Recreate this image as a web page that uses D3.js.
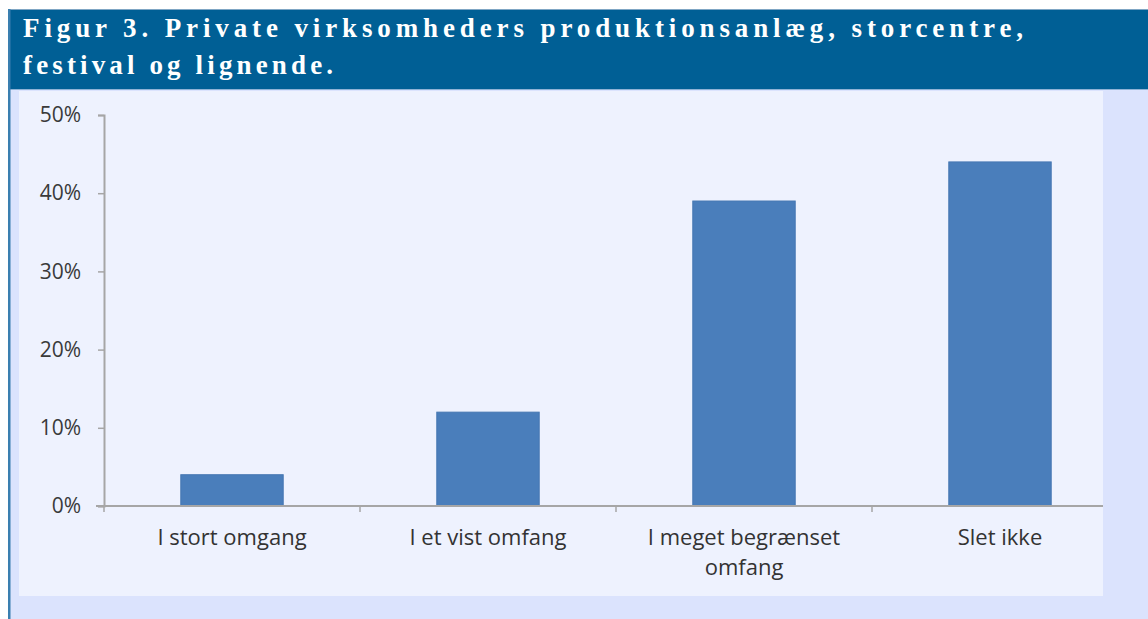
<!DOCTYPE html>
<html>
<head>
<meta charset="utf-8">
<script src="https://cdn.jsdelivr.net/npm/d3@7/dist/d3.min.js"></script>
<style>
html,body{margin:0;padding:0;background:#ffffff;}
svg{display:block;}
</style>
</head>
<body>
<script>
const categories = [["I stort omgang"], ["I et vist omfang"], ["I meget begrænset", "omfang"], ["Slet ikke"]];
const categoryKeys = ["I stort omgang", "I et vist omfang", "I meget begrænset omfang", "Slet ikke"];
const values = [0.04, 0.12, 0.39, 0.44];
const yTicks = [0, 0.1, 0.2, 0.3, 0.4, 0.5];
const titleLines = ["Figur 3. Private virksomheders produktionsanlæg, storcentre,", "festival og lignende."];

const W = 1148, H = 619;
const svg = d3.select("body").append("svg").attr("width", W).attr("height", H);

// outer background
svg.append("rect").attr("x", 0).attr("y", 0).attr("width", W).attr("height", H).attr("fill", "#ffffff");
svg.append("rect").attr("x", 9).attr("y", 90).attr("width", W - 9).attr("height", H - 90).attr("fill", "#dbe3fd");
// inner panel
svg.append("rect").attr("x", 19).attr("y", 91).attr("width", 1084).attr("height", 505).attr("fill", "#eef2fe");
// title band
svg.append("rect").attr("x", 8).attr("y", 9).attr("width", W - 8).attr("height", 81).attr("fill", "#005f95");
svg.append("line").attr("x1", 8).attr("x2", W).attr("y1", 9.5).attr("y2", 9.5).attr("stroke", "#7fa6c4").attr("stroke-width", 1);
svg.append("line").attr("x1", 8).attr("x2", W).attr("y1", 89.5).attr("y2", 89.5).attr("stroke", "#8fb3d6").attr("stroke-width", 1);
// left blue line
svg.append("rect").attr("x", 8).attr("y", 9).attr("width", 2.5).attr("height", H - 9).attr("fill", "#3a7fb0");

// title
const tt = svg.append("g").attr("fill", "#ffffff")
  .style("font-family", "'Liberation Serif','DejaVu Serif',serif").style("font-weight", "bold").style("font-size", "27px");
tt.append("text").attr("x", 23).attr("y", 37).attr("textLength", 1000).attr("lengthAdjust", "spacing").text(titleLines[0]);
tt.append("text").attr("x", 23).attr("y", 74).attr("textLength", 310).attr("lengthAdjust", "spacing").text(titleLines[1]);

// scales
const x = d3.scaleBand().domain(categoryKeys).range([104, 1128]).paddingInner(0.6).paddingOuter(0.3);
const y = d3.scaleLinear().domain([0, 0.5]).range([506, 115]);

svg.append("defs").append("clipPath").attr("id", "clip")
  .append("rect").attr("x", 0).attr("y", 0).attr("width", 1103).attr("height", H);

const g = svg.append("g").attr("clip-path", "url(#clip)");

// bars
g.selectAll("rect.bar").data(values).enter().append("rect").attr("class", "bar")
  .attr("x", (d, i) => x(categoryKeys[i]))
  .attr("y", d => y(d))
  .attr("width", x.bandwidth())
  .attr("height", d => y(0) - y(d))
  .attr("fill", "#4a7ebb")
  .attr("stroke", "#4577b2").attr("stroke-width", 1);

// y axis
const yAxis = d3.axisLeft(y).tickValues(yTicks).tickFormat(d3.format(".0%")).tickSize(6).tickPadding(17);
const ya = g.append("g").attr("transform", "translate(104,0)").call(yAxis);
ya.select(".domain").attr("stroke", "#a6a6a6").attr("stroke-width", 2);
ya.selectAll(".tick line").attr("stroke", "#a6a6a6").attr("stroke-width", 1.5);
ya.selectAll(".tick text").attr("fill", "#3a3a3a")
  .style("font-family", "'Open Sans','Noto Sans',sans-serif").style("font-size", "21px");

// x axis
const xa = g.append("g").attr("transform", "translate(0,506)");
xa.append("line").attr("x1", 96).attr("x2", 1128).attr("y1", 0).attr("y2", 0).attr("stroke", "#a6a6a6").attr("stroke-width", 2);
xa.selectAll("line.t").data([0, 1, 2, 3]).enter().append("line").attr("class", "t")
  .attr("x1", i => x(categoryKeys[i]) - (x.step() - x.bandwidth()) / 2)
  .attr("x2", i => x(categoryKeys[i]) - (x.step() - x.bandwidth()) / 2)
  .attr("y1", 0).attr("y2", 6).attr("stroke", "#a6a6a6").attr("stroke-width", 1.5);

const labels = xa.selectAll("text.lab").data(categories).enter().append("text").attr("class", "lab")
  .attr("text-anchor", "middle")
  .attr("fill", "#333333")
  .style("font-family", "'Open Sans','Noto Sans',sans-serif").style("font-size", "22px")
  .attr("transform", (d, i) => `translate(${x(categoryKeys[i]) + x.bandwidth() / 2},39)`);
labels.selectAll("tspan").data(d => d).enter().append("tspan")
  .attr("x", 0).attr("dy", (d, j) => j === 0 ? 0 : 30).text(d => d);
</script>
</body>
</html>
